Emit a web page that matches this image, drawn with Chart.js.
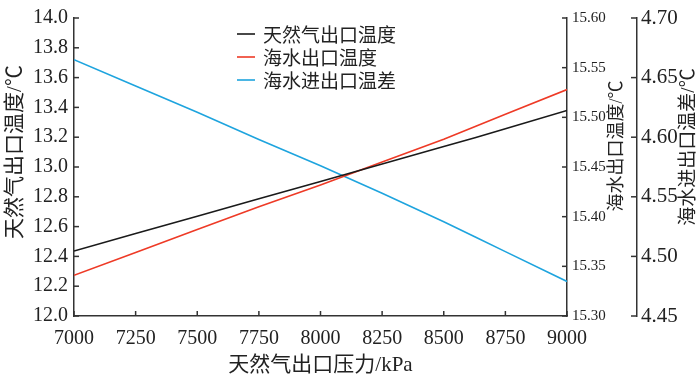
<!DOCTYPE html>
<html>
<head>
<meta charset="utf-8">
<script src="https://cdn.jsdelivr.net/npm/chart.js@4.4.1/dist/chart.umd.min.js"></script>
<style>
  html, body { margin: 0; padding: 0; background: #ffffff; }
  canvas { display: block; }
</style>
</head>
<body>
<canvas id="chart" width="700" height="377"></canvas>
<script>
// ===== data =====
const pressure = [7000, 7250, 7500, 7750, 8000, 8250, 8500, 8630, 8750, 9000];
const gasOutTemp = [12.436, 12.553, 12.670, 12.787, 12.903, 13.020, 13.137, 13.198, 13.257, 13.379];
const seaOutTemp = [15.341, 15.364, 15.387, 15.410, 15.432, 15.455, 15.478, 15.491, 15.503, 15.528];
const seaTempDiff = [4.665, 4.643, 4.621, 4.598, 4.576, 4.553, 4.529, 4.516, 4.504, 4.479];

const seriesNames = ['天然气出口温度', '海水出口温度', '海水进出口温差'];

const xTicks = [7000, 7250, 7500, 7750, 8000, 8250, 8500, 8750, 9000];
const gasTicks = [12.0, 12.2, 12.4, 12.6, 12.8, 13.0, 13.2, 13.4, 13.6, 13.8, 14.0];
const seaTicks = [15.30, 15.35, 15.40, 15.45, 15.50, 15.55, 15.60];
const diffTicks = [4.45, 4.50, 4.55, 4.60, 4.65, 4.70];

const THEME = {
  axis: '#333333',
  ink: '#222222',
  black: '#1a1a1a',
  red: '#ee3a26',
  blue: '#1ea4de',
};
const SERIF = '"Liberation Serif", "Noto Sans CJK SC"';
const CJK = '"Noto Sans CJK SC", "Liberation Serif"';

const toPoints = (ys) => pressure.map((p, i) => ({ x: p, y: ys[i] }));
const fixTicks = (list) => (scale) => { scale.ticks = list.map(v => ({ value: v })); };

// inward tick marks, rotated titles and the small legend
const axisDecor = {
  id: 'axisDecor',
  afterDraw(chart) {
    const ctx = chart.ctx;
    const { x, y, y1, y2 } = chart.scales;
    const line = (ax, ay, bx, by) => { ctx.beginPath(); ctx.moveTo(ax, ay); ctx.lineTo(bx, by); ctx.stroke(); };
    ctx.save();
    ctx.strokeStyle = THEME.axis;
    ctx.lineWidth = 1.5;
    y.ticks.forEach(t => { const p = y.getPixelForValue(t.value); line(y.right, p, y.right + 5, p); });
    y1.ticks.forEach(t => { const p = y1.getPixelForValue(t.value); line(y1.left, p, y1.left - 5, p); });
    y2.ticks.forEach(t => { const p = y2.getPixelForValue(t.value); line(y2.left, p, y2.left - 6, p); });
    x.ticks.forEach(t => { const p = x.getPixelForValue(t.value); line(p, x.top, p, x.top - 5); });

    // axis titles
    ctx.fillStyle = THEME.ink;
    ctx.textAlign = 'center';
    ctx.textBaseline = 'middle';
    const vTitle = (text, cx, cy, size) => {
      ctx.save();
      ctx.translate(cx, cy);
      ctx.rotate(-Math.PI / 2);
      ctx.font = size + 'px ' + SERIF;
      ctx.fillText(text, 0, 0);
      ctx.restore();
    };
    vTitle('天然气出口温度/℃', 15, 152, 21);
    vTitle('海水出口温度/℃', 617, 146, 18);
    vTitle('海水进出口温差/℃', 689, 147, 19);
    ctx.font = '21px ' + SERIF;
    ctx.fillText('天然气出口压力/kPa', (x.left + x.right) / 2, 365);

    // legend
    const colors = [THEME.black, THEME.red, THEME.blue];
    ctx.textAlign = 'left';
    ctx.font = '19px ' + CJK;
    seriesNames.forEach((name, i) => {
      const ly = 34 + i * 23;
      ctx.strokeStyle = colors[i];
      ctx.lineWidth = 1.6;
      line(237, ly, 255, ly);
      ctx.fillStyle = THEME.ink;
      ctx.fillText(name, 263, ly + 1);
    });
    ctx.restore();
  }
};

const axisBorder = { display: true, color: THEME.axis, width: 1.5 };

new Chart(document.getElementById('chart'), {
  type: 'line',
  data: {
    datasets: [
      { label: seriesNames[0], data: toPoints(gasOutTemp), yAxisID: 'y', borderColor: THEME.black, borderWidth: 1.6 },
      { label: seriesNames[1], data: toPoints(seaOutTemp), yAxisID: 'y1', borderColor: THEME.red, borderWidth: 1.6 },
      { label: seriesNames[2], data: toPoints(seaTempDiff), yAxisID: 'y2', borderColor: THEME.blue, borderWidth: 1.6 },
    ]
  },
  options: {
    responsive: false,
    animation: false,
    devicePixelRatio: 1,
    layout: { padding: { top: 10, left: 0, right: 0, bottom: 0 } },
    elements: { point: { radius: 0 }, line: { tension: 0 } },
    plugins: { legend: { display: false }, tooltip: { enabled: false } },
    scales: {
      x: {
        type: 'linear', min: 7000, max: 9000,
        afterBuildTicks: fixTicks(xTicks),
        afterFit: (s) => { s.height = 61; },
        grid: { display: false, drawTicks: false },
        border: axisBorder,
        ticks: { color: THEME.ink, padding: 11, maxRotation: 0, font: { family: SERIF, size: 20 }, callback: (v) => String(v) },
      },
      y: {
        type: 'linear', position: 'left', min: 12, max: 14,
        afterBuildTicks: fixTicks(gasTicks),
        afterFit: (s) => { s.width = 74; },
        grid: { display: false, drawTicks: false },
        border: axisBorder,
        ticks: { color: THEME.ink, padding: 6, font: { family: SERIF, size: 20 }, callback: (v) => Number(v).toFixed(1) },
      },
      y1: {
        type: 'linear', position: 'right', min: 15.30, max: 15.60,
        afterBuildTicks: fixTicks(seaTicks),
        afterFit: (s) => { s.width = 70; },
        grid: { display: false, drawTicks: false },
        border: axisBorder,
        ticks: { color: THEME.ink, padding: 5, font: { family: SERIF, size: 15 }, callback: (v) => Number(v).toFixed(2) },
      },
      y2: {
        type: 'linear', position: 'right', min: 4.45, max: 4.70,
        afterBuildTicks: fixTicks(diffTicks),
        afterFit: (s) => { s.width = 63; },
        grid: { display: false, drawTicks: false },
        border: axisBorder,
        ticks: { color: THEME.ink, padding: 4, font: { family: SERIF, size: 21 }, callback: (v) => Number(v).toFixed(2) },
      },
    }
  },
  plugins: [axisDecor]
});
</script>
</body>
</html>
